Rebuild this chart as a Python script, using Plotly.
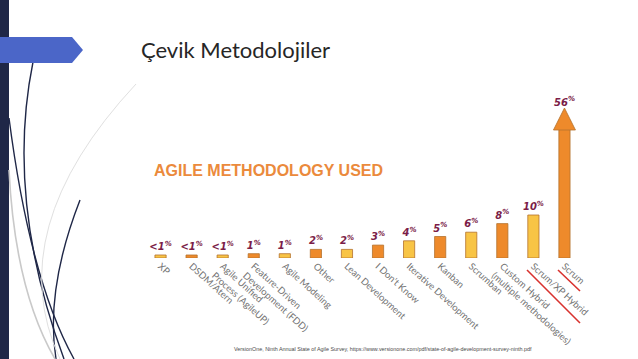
import plotly.graph_objects as go

# ---------------- data ----------------
categories = ["XP", "DSDM/Atern", "Agile Unified Process (AgileUP)",
              "Feature-Driven Development (FDD)", "Agile Modeling", "Other",
              "Lean Development", "I Don't Know", "Iterative Development",
              "Kanban", "Scrumban", "Custom Hybrid (multiple methodologies)",
              "Scrum/XP Hybrid", "Scrum"]
tick_labels = ["XP", "DSDM/Atern", "Agile Unified<br>Process (AgileUP)",
               "Feature-Driven<br>Development (FDD)", "Agile Modeling", "Other",
               "Lean Development", "I Don't Know", "Iterative Development",
               "Kanban", "Scrumban", "Custom Hybrid<br>(multiple methodologies)",
               "Scrum/XP Hybrid", "Scrum"]
values = [0.7, 0.7, 0.7, 1, 1, 2, 2, 3, 4, 5, 6, 8, 10, 56]
value_labels = ["<1%", "<1%", "<1%", "1%", "1%", "2%", "2%", "3%", "4%",
                "5%", "6%", "8%", "10%", "56%"]

title_text = "Çevik Metodolojiler"
chart_heading = "AGILE METHODOLOGY USED"
source_text = ("VersionOne, Ninth Annual State of Agile Survey, "
               "https://www.versionone.com/pdf/state-of-agile-development-survey-ninth.pdf")

# ---------------- geometry / style ----------------
W, H = 638, 359
L, R, T, B = 145, 58, 100, 101
PW, PH = W - L - R, H - T - B

YELLOW, ORANGE = "#F8C445", "#EE8A2B"
OUTLINE = "#B4722E"
PCT_COLOR = "#7B1D48"

# Scrum arrow drawn on its own compressed scale (as the original infographic does)
Y2_TOP = 56 * PH / 138          # shaft top of the 56 % arrow 138 px above the baseline
HEAD_PX = 12                    # arrow head tip sits this many px above the shaft top
Y3_SHIFT = HEAD_PX * Y2_TOP / PH


def px(x):
    return (x - L) / PW


def py(y):
    return 1 - (y - T) / PH


def fmt(s):
    return s.replace("<", "&lt;").replace("%", "<sup>%</sup>")


n = len(categories)
colors = [YELLOW if i % 2 == 0 else ORANGE for i in range(n)]
pct_font = dict(family="DejaVu Sans", size=10, color=PCT_COLOR, style="italic", weight="bold")

fig = go.Figure()

# small bars (first scale)
fig.add_trace(go.Bar(
    x=categories[:-1], y=values[:-1], width=0.36,
    marker=dict(color=colors[:-1], line=dict(color=OUTLINE, width=0.8)),
    text=[fmt(s) for s in value_labels[:-1]], textposition="outside",
    textfont=pct_font, constraintext="none", cliponaxis=False,
    hoverinfo="skip", yaxis="y",
))

# Scrum arrow shaft
fig.add_trace(go.Bar(
    x=categories[-1:], y=values[-1:], width=0.36,
    marker=dict(color=colors[-1], line=dict(color=OUTLINE, width=0.8)),
    hoverinfo="skip", yaxis="y2",
))
# Scrum arrow head + label
fig.add_trace(go.Scatter(
    x=categories[-1:], y=values[-1:], mode="markers",
    marker=dict(symbol="arrow-up", size=22, color=colors[-1],
                line=dict(color=OUTLINE, width=0.8)),
    cliponaxis=False, hoverinfo="skip", yaxis="y3",
))
fig.add_trace(go.Scatter(
    x=categories[-1:], y=values[-1:], mode="text",
    text=[fmt(value_labels[-1])], textposition="top center",
    textfont=pct_font, cliponaxis=False, hoverinfo="skip", yaxis="y3",
))

shapes = []
# left dark bar
shapes.append(dict(type="rect", xref="paper", yref="paper",
                   x0=px(0), x1=px(9), y0=py(H), y1=py(0),
                   fillcolor="#1F2747", line=dict(width=0), layer="below"))


def path(pts):
    (x0, y0), (cx, cy), (x1, y1) = pts
    return f"M{px(x0)},{py(y0)} Q{px(cx)},{py(cy)} {px(x1)},{py(y1)}"


curves = [
    ([(33, 62), (5, 200), (64, 359)], "#1F2747", 1.4),
    ([(9, 118), (30, 280), (74, 359)], "#1F2747", 1.4),
    ([(80, 200), (45, 290), (56, 359)], "#1F2747", 1.4),
    ([(9, 170), (15, 290), (55, 359)], "#C9C9C9", 1.6),
    ([(136, 84), (0, 230), (60, 359)], "#E0E0E0", 1.0),
]
for pts, col, w in curves:
    shapes.append(dict(type="path", xref="paper", yref="paper", path=path(pts),
                       line=dict(color=col, width=w), fillcolor="rgba(0,0,0,0)"))

# blue arrow tab
pent = [(0, 37), (72, 37), (83, 50), (72, 63), (0, 63)]
shapes.append(dict(type="path", xref="paper", yref="paper",
                   path="M" + " L".join(f"{px(a)},{py(b)}" for a, b in pent) + " Z",
                   fillcolor="#4B66C8", line=dict(width=0)))

# red underlines of Scrum labels
for (a, b), (c, d) in [((527, 270), (580, 323)), ((558, 270), (580, 291))]:
    shapes.append(dict(type="line", xref="paper", yref="paper",
                       x0=px(a), y0=py(b), x1=px(c), y1=py(d),
                       line=dict(color="#D8322E", width=1.6)))

annotations = [
    dict(text=title_text, xref="paper", yref="paper", x=px(139), y=py(49),
         xanchor="left", yanchor="middle", showarrow=False,
         font=dict(family="Lato", size=22, color="#262626")),
    dict(text=chart_heading, xref="paper", yref="paper", x=px(152), y=py(170),
         xanchor="left", yanchor="middle", showarrow=False,
         font=dict(family="Liberation Sans", size=16, color="#EB8A3C", weight="bold")),
    dict(text=source_text, xref="paper", yref="paper", x=px(232), y=py(349),
         xanchor="left", yanchor="middle", showarrow=False,
         font=dict(family="Liberation Sans", size=5.4, color="#4A4A4A")),
]

fig.update_layout(
    width=W, height=H, margin=dict(l=L, r=R, t=T, b=B),
    paper_bgcolor="white", plot_bgcolor="white",
    showlegend=False, barmode="overlay",
    xaxis=dict(type="category", categoryorder="array", categoryarray=categories,
               tickvals=categories, ticktext=tick_labels, tickangle=42,
               range=[-0.5, n - 0.5], showgrid=False, zeroline=False,
               showline=False, ticks="", automargin=False,
               tickfont=dict(family="Lato", size=9.5, color="#737373")),
    yaxis=dict(range=[0, PH / 4.3], visible=False, fixedrange=True),
    yaxis2=dict(range=[0, Y2_TOP], overlaying="y", visible=False),
    yaxis3=dict(range=[-Y3_SHIFT, Y2_TOP - Y3_SHIFT], overlaying="y", visible=False),
    shapes=shapes, annotations=annotations,
)

fig.write_html("out.html", config=dict(displayModeBar=False),
               post_script="document.body.style.margin='0';document.body.style.padding='0';"
                           "document.body.style.overflow='hidden';")
